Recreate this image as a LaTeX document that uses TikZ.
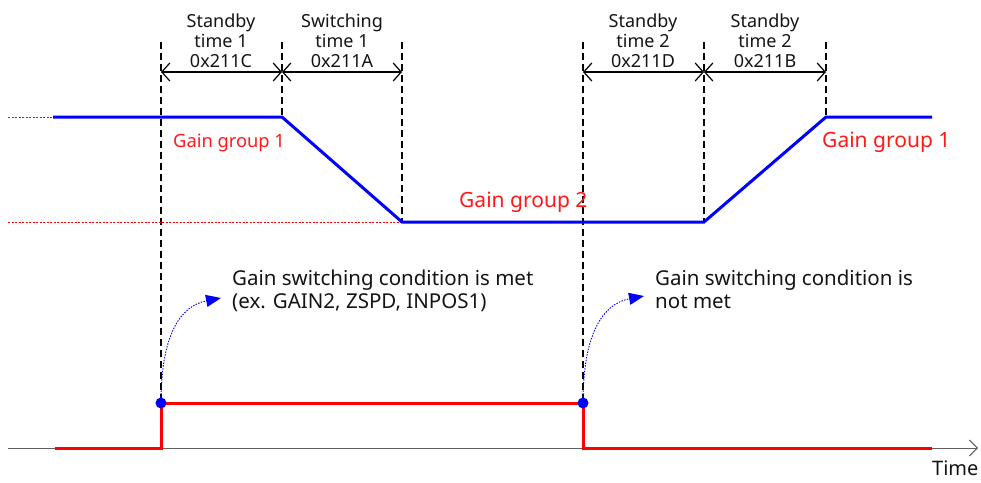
\documentclass[tikz,border=0pt]{standalone}
\usepackage{fontspec}
\setmainfont{Noto Sans}
\usetikzlibrary{arrows.meta}
\definecolor{cGain}{RGB}{  0,  0,255}
\definecolor{cSig} {RGB}{255,  0,  0}
\definecolor{cLbl} {RGB}{255, 25, 25}
\definecolor{cAx}  {RGB}{ 95, 95, 95}
\definecolor{cTxt} {RGB}{ 20, 20, 20}

\begin{document}
\begin{tikzpicture}[
  x=1pt, y=-1pt,
  %% dashed timing guide
  guide/.style={
    black, line width=1.4pt, dash pattern=on 7pt off 4pt
  },
  %% duration with open barbs at both ends
  dim/.style={
    {Straight Barb[length=8pt,width=18pt]}-{Straight Barb[length=8pt,width=18pt]},
    line width=1.2pt, black
  },
  %% red dotted level reference
  lvl/.style={
    cSig, line width=0.8pt, dash pattern=on 2pt off 1.5pt
  },
  gain/.style={cGain, line width=3pt, line join=miter},
  sig/.style={cSig, line width=3pt, line join=miter},
  %% dotted blue cue arrow
  cue/.style={
    -{Triangle[length=15pt,width=12pt]}, cGain, line width=0.9pt,
    dash pattern=on 1.5pt off 1.3pt
  },
  dur/.style={
    font=\fontsize{18}{20}\selectfont, align=center, text=cTxt,
    inner sep=0pt, anchor=south
  },
  grp/.style={
    font=\fontsize{21}{24}\selectfont, text=cLbl, inner sep=0pt,
    anchor=base west
  },
  note/.style={
    font=\fontsize{20.5}{23}\selectfont, align=left, text=cTxt,
    inner sep=0pt, anchor=base west
  },
]

%% ── Geometry ─────────────────────────────────────────────────────────────────
\useasboundingbox (0,0) rectangle (981,482);

\def\yTop{42}    % top of guides
\def\yDim{72}    % duration arrows
\def\yHi{117}    % gain group 1 level
\def\yLo{222}    % gain group 2 level
\def\ySig{403}   % signal high
\def\yAx{448}    % time axis

\def\xA{161}  \def\xB{282}  \def\xC{402}
\def\xD{583}  \def\xE{704}  \def\xF{826}

%% ── Dashed guides ────────────────────────────────────────────────────────────
\foreach \x/\yb in {\xA/\ySig, \xB/\yHi, \xC/\yLo, \xD/\yAx, \xE/\yLo, \xF/\yHi}
  \draw[guide] (\x,\yTop) -- (\x,\yb);

%% ── Duration arrows ──────────────────────────────────────────────────────────
\coordinate (dA) at (\xA,\yDim);
\coordinate (dB) at (\xB,\yDim);
\coordinate (dC) at (\xC,\yDim);
\coordinate (dD) at (\xD,\yDim);
\coordinate (dE) at (\xE,\yDim);
\coordinate (dF) at (\xF,\yDim);

\draw[dim] (dA) -- (dB);
\draw[dim] (dB) -- (dC);
\draw[dim] (dD) -- (dE);
\draw[dim] (dE) -- (dF);

\node[dur] (standby1) at (221,68) {Standby\\time 1\\0x211C};
\node[dur] (switch1)  at (342,68) {Switching\\time 1\\0x211A};
\node[dur] (standby2) at (643,68) {Standby\\time 2\\0x211D};
\node[dur] (standby2b) at (765,68) {Standby\\time 2\\0x211B};

%% ── Gain level ───────────────────────────────────────────────────────────────
\draw[lvl] (8,\yHi) -- (53,\yHi);
\draw[lvl] (8,\yLo) -- (\xC,\yLo);

\coordinate (g0) at (53,\yHi);
\coordinate (g1) at (\xB,\yHi);
\coordinate (g2) at (\xC,\yLo);
\coordinate (g3) at (\xE,\yLo);
\coordinate (g4) at (\xF,\yHi);
\coordinate (g5) at (932,\yHi);
\draw[gain] (g0) -- (g1) -- (g2) -- (g3) -- (g4) -- (g5);

\node[grp, font=\fontsize{18.3}{22}\selectfont] (grp1) at (173,147) {Gain group 1};
\node[grp] (grp2)  at (459,207) {Gain group 2};
\node[grp] (grp1b) at (822,147) {Gain group 1};

%% ── Switching condition signal ───────────────────────────────────────────────
\coordinate (ax0) at (8,\yAx);
\coordinate (ax1) at (978,\yAx);
\draw[cAx, line width=1pt, -{Straight Barb[length=8pt,width=16pt]}] (ax0) -- (ax1);
\node[note, font=\fontsize{20}{24}\selectfont] (time) at (932,475) {Time};

\coordinate (s0) at (55,\yAx);
\coordinate (s1) at (\xA,\yAx);
\coordinate (s2) at (\xA,\ySig);
\coordinate (s3) at (\xD,\ySig);
\coordinate (s4) at (\xD,\yAx);
\coordinate (s5) at (932,\yAx);
\draw[sig] (s0) -- (s1) -- (s2) -- (s3) -- (s4) -- (s5);

%% cue arrows from the switching edges
\coordinate (c1) at (221,298);
\coordinate (c2) at (644,296);
\draw[cue] (s2) .. controls (\xA,335) and (180,306) .. (c1);
\draw[cue] (s3) .. controls (\xD,335) and (602,304) .. (c2);

\fill[cGain] (s2) circle (5.5);
\fill[cGain] (s3) circle (5.5);

\node[note] (met)    at (232,308) {Gain switching condition is met\\(ex. GAIN2, ZSPD, INPOS1)};
\node[note] (notmet) at (655,308) {Gain switching condition is\\not met};

\end{tikzpicture}
\end{document}
